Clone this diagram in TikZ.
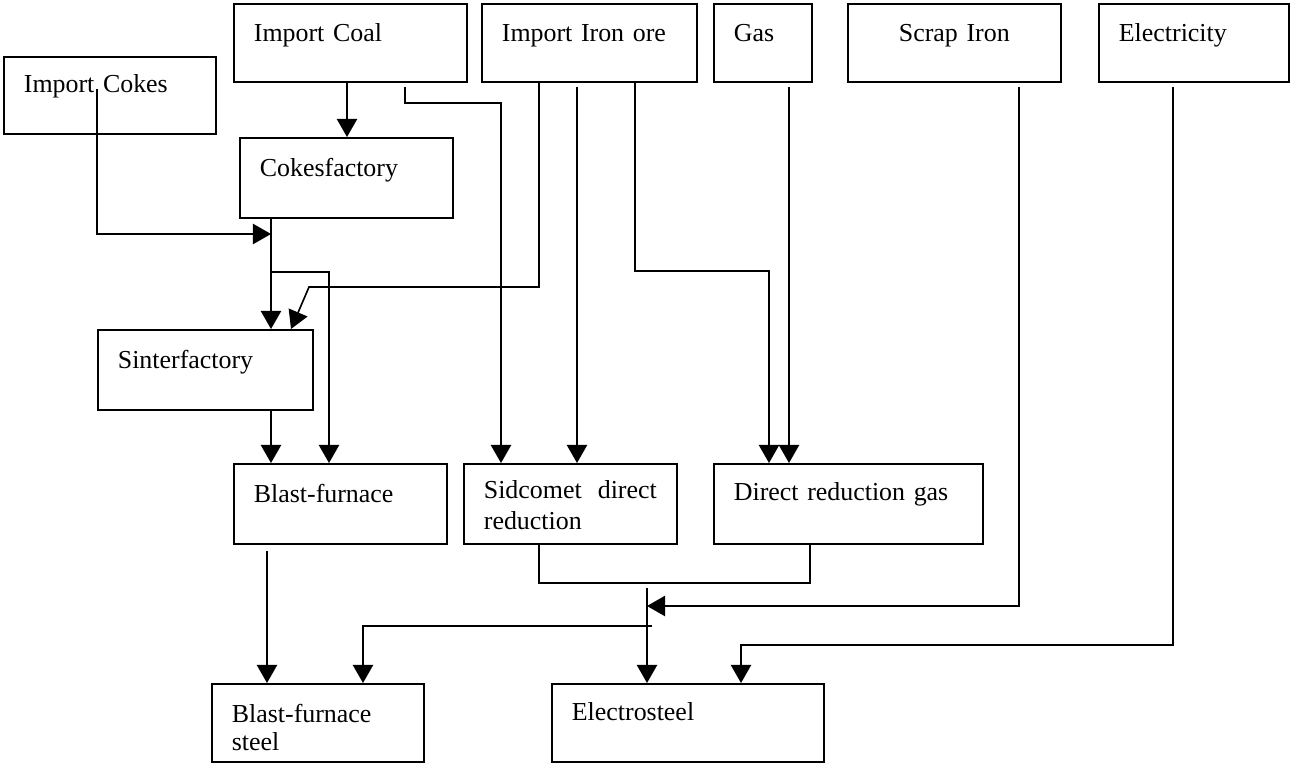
\documentclass[tikz,border=0pt]{standalone}
\usepackage{fontspec}
\setmainfont{Liberation Serif}
\usetikzlibrary{arrows.meta}

\tikzset{
  box/.style={draw, line width=0.8pt, anchor=north west, inner xsep=0.32cm,
    inner ysep=0pt, align=left, font=\fontsize{11.8}{14}\selectfont},
  toprow/.style={text height=0.608cm, text depth=0.64cm},
  midrow/.style={text height=0.624cm, text depth=0.656cm},
  flow/.style={line width=0.75pt, -{Triangle[length=8.2pt,width=9.2pt]}},
  link/.style={line width=0.75pt},
  loose/.style={shorten <=1.8pt}
}

\begin{document}
\begin{tikzpicture}[x=0.016cm, y=-0.016cm]
  \useasboundingbox (0,0) rectangle (1291,763);

  % Raw materials
  \node[box, text width=2.752cm, text height=0.576cm, text depth=0.656cm] (cokes) at (3,56) {Import Cokes};
  \node[box, toprow, text width=3.088cm] (coal) at (233,3) {Import Coal};
  \node[box, toprow, text width=2.8cm] (ironore) at (481,3) {Import Iron ore};
  \node[box, toprow, text width=0.928cm] (gas) at (713,3) {Gas};
  \node[box, toprow, text width=2.768cm, align=center] (scrap) at (847,3) {Scrap Iron};
  \node[box, toprow, text width=2.4cm] (elec) at (1098,3) {Electricity};

  % Plants
  \node[box, midrow, text width=2.768cm] (cokesf) at (239,137) {Cokesfactory};
  \node[box, midrow, text width=2.8cm] (sinter) at (97,329) {Sinterfactory};
  \node[box, midrow, text width=2.768cm] (blast) at (233,463) {Blast-furnace};
  \node[box, text width=2.768cm, text height=0.56cm, text depth=0.72cm, align=justify] (sidcomet) at (463,463) {Sidcomet direct reduction};
  \node[box, text width=3.664cm, text height=0.592cm, text depth=0.688cm] (drgas) at (713,463) {Direct reduction gas};

  % Products
  \node[box, text width=2.752cm, text height=0.624cm, text depth=0.624cm, font=\fontsize{11.8}{12.5}\selectfont] (bfsteel) at (211,683) {Blast-furnace\\steel};
  \node[box, text width=3.712cm, text height=0.592cm, text depth=0.656cm] (esteel) at (551,683) {Electrosteel};

  % Columns and bends of the flows
  \foreach \n/\x in {coalk/347, cokesk/271, blastk/329, orek/539, sinterk/291,
      coalsid/405, oresid/577, oregas/635, gask/789, bfk/267, drk/810,
      scrapk/1019, bfsk/363, eleck/1173}
    \coordinate (\n) at (\x,0);
  \coordinate (cokesout) at (97,89);
  \coordinate (cokesin) at (271,234);
  \coordinate (cokessplit) at (271,272);
  \coordinate (orebend) at (309,287);
  \coordinate (coalbend) at (501,103);
  \coordinate (gasbend) at (769,271);
  \coordinate (merge) at (647,583);
  \coordinate (steeltop) at (647,588);
  \coordinate (scrapin) at (647,606);
  \coordinate (bfsplit) at (652,626);
  \coordinate (elecbend) at (741,645);

  % Coal and cokes
  \draw[flow] (coalk |- coal.south) -- (coalk |- cokesf.north);
  \draw[flow] (cokesout) |- (cokesin);
  \draw[flow] (cokesk |- cokesf.south) -- (cokesk |- sinter.north);
  \draw[flow] (cokessplit) -| (blastk |- blast.north);

  % Iron ore and gas
  \draw[flow] (orek |- ironore.south) |- (orebend) -- (sinterk |- sinter.north);
  \draw[flow, loose] (coalsid |- coal.south) |- (coalbend) -- (coalbend |- sidcomet.north);
  \draw[flow, loose] (oresid |- ironore.south) -- (oresid |- sidcomet.north);
  \draw[flow] (oregas |- ironore.south) |- (gasbend) -- (gasbend |- drgas.north);
  \draw[flow, loose] (gask |- gas.south) -- (gask |- drgas.north);

  % Steel making
  \draw[flow] (cokesk |- sinter.south) -- (cokesk |- blast.north);
  \draw[flow, shorten <=2.7pt] (bfk |- blast.south) -- (bfk |- bfsteel.north);
  \draw[link] (orek |- sidcomet.south) |- (merge) -| (drk |- drgas.south);
  \draw[flow] (steeltop) -- (steeltop |- esteel.north);
  \draw[flow, loose] (scrapk |- scrap.south) |- (scrapin);
  \draw[flow] (bfsplit) -| (bfsk |- bfsteel.north);
  \draw[flow, loose] (eleck |- elec.south) |- (elecbend) -- (elecbend |- esteel.north);
\end{tikzpicture}
\end{document}
